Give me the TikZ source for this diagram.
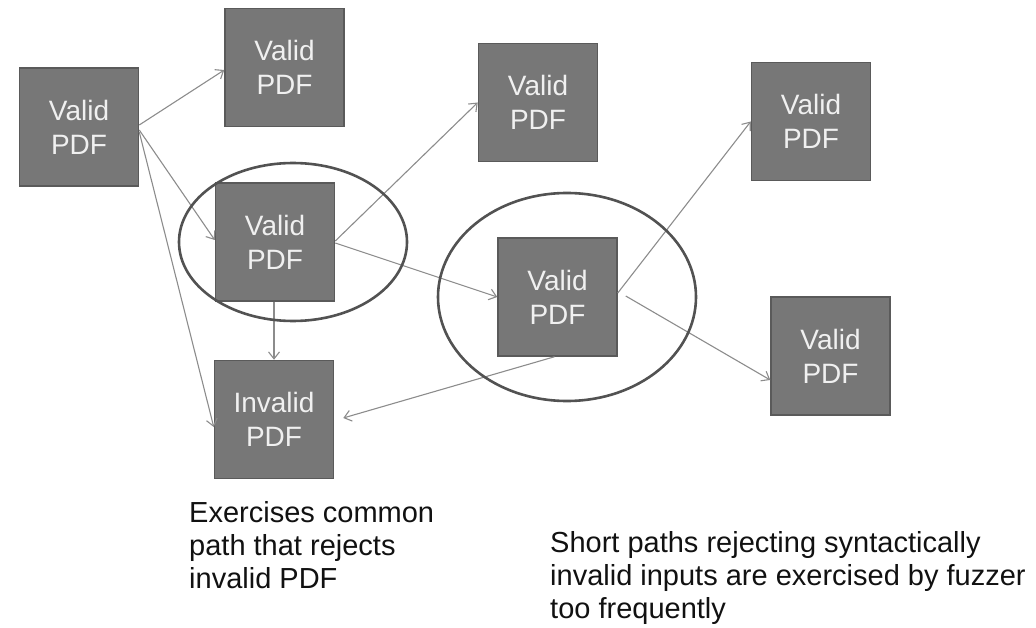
\documentclass[tikz,border=0pt]{standalone}
\usepackage{fontspec}
\setmainfont{Liberation Sans}
\usetikzlibrary{arrows.meta}
\definecolor{boxfill}{HTML}{777777}
\definecolor{boxedge}{HTML}{5A5A5A}
\definecolor{arrowc}{HTML}{8C8C8C}
\definecolor{ellc}{HTML}{525252}
\definecolor{txt}{HTML}{111111}
\tikzset{
  box/.style={draw=boxedge, fill=boxfill, line width=1.5pt, minimum width=119pt,
    minimum height=118pt, inner sep=0pt, text=white!94!black, align=center,
    font=\fontsize{28}{34}\selectfont},
  conn/.style={draw=arrowc, line width=1.1pt, -{Straight Barb[length=7pt,width=11pt]}},
  ring/.style={draw=ellc, line width=2.6pt},
  caption/.style={anchor=north west, inner sep=0pt, align=left, text=txt,
    font=\fontsize{29}{33}\selectfont}
}
\begin{document}
\begin{tikzpicture}[x=1pt,y=-1pt]
\useasboundingbox (0,0) rectangle (1036,628);
\node[box] (A) at (79,127) {Valid\\PDF};
\node[box] (B) at (284.5,67.5) {Valid\\PDF};
\node[box] (C) at (275,242) {Valid\\PDF};
\node[box] (D) at (538,102.5) {Valid\\PDF};
\node[box] (E) at (557.5,297) {Valid\\PDF};
\node[box] (F) at (811,121.5) {Valid\\PDF};
\node[box] (G) at (830.5,356) {Valid\\PDF};
\node[box] (I) at (274,419.5) {Invalid\\PDF};

\draw[conn] ([yshift=2pt]A.east) -- ([yshift=-2.5pt]B.west);
\draw[conn] ([yshift=-3pt]A.east) -- ([yshift=2pt]C.west);
\draw[conn] ([yshift=-5pt]A.east) -- ([yshift=-7.5pt]I.west);
\draw[conn] (I.north |- C.south) -- (I.north);
\draw[conn] ([yshift=1pt]C.east) -- (D.west);
\draw[conn] ([yshift=-1pt]C.east) -- (E.west);
\draw[conn] ([yshift=4pt]E.east) -- (F.west);
\draw[conn] ([xshift=8pt,yshift=1pt]E.east) -- ([yshift=-24pt]G.west);
\draw[conn] ([xshift=-3pt]E.south) -- ([xshift=9pt,yshift=1.5pt]I.east);

\draw[ring] (293,242) ellipse [x radius=114pt, y radius=79pt];
\draw[ring] (567,297) ellipse [x radius=129pt, y radius=104pt];

\node[caption] (t1) at (189,501) {Exercises common\\path that rejects\\invalid PDF};
\node[caption] (t2) at (550,531) {Short paths rejecting syntactically\\invalid inputs are exercised by fuzzer\\too frequently};
\end{tikzpicture}
\end{document}
